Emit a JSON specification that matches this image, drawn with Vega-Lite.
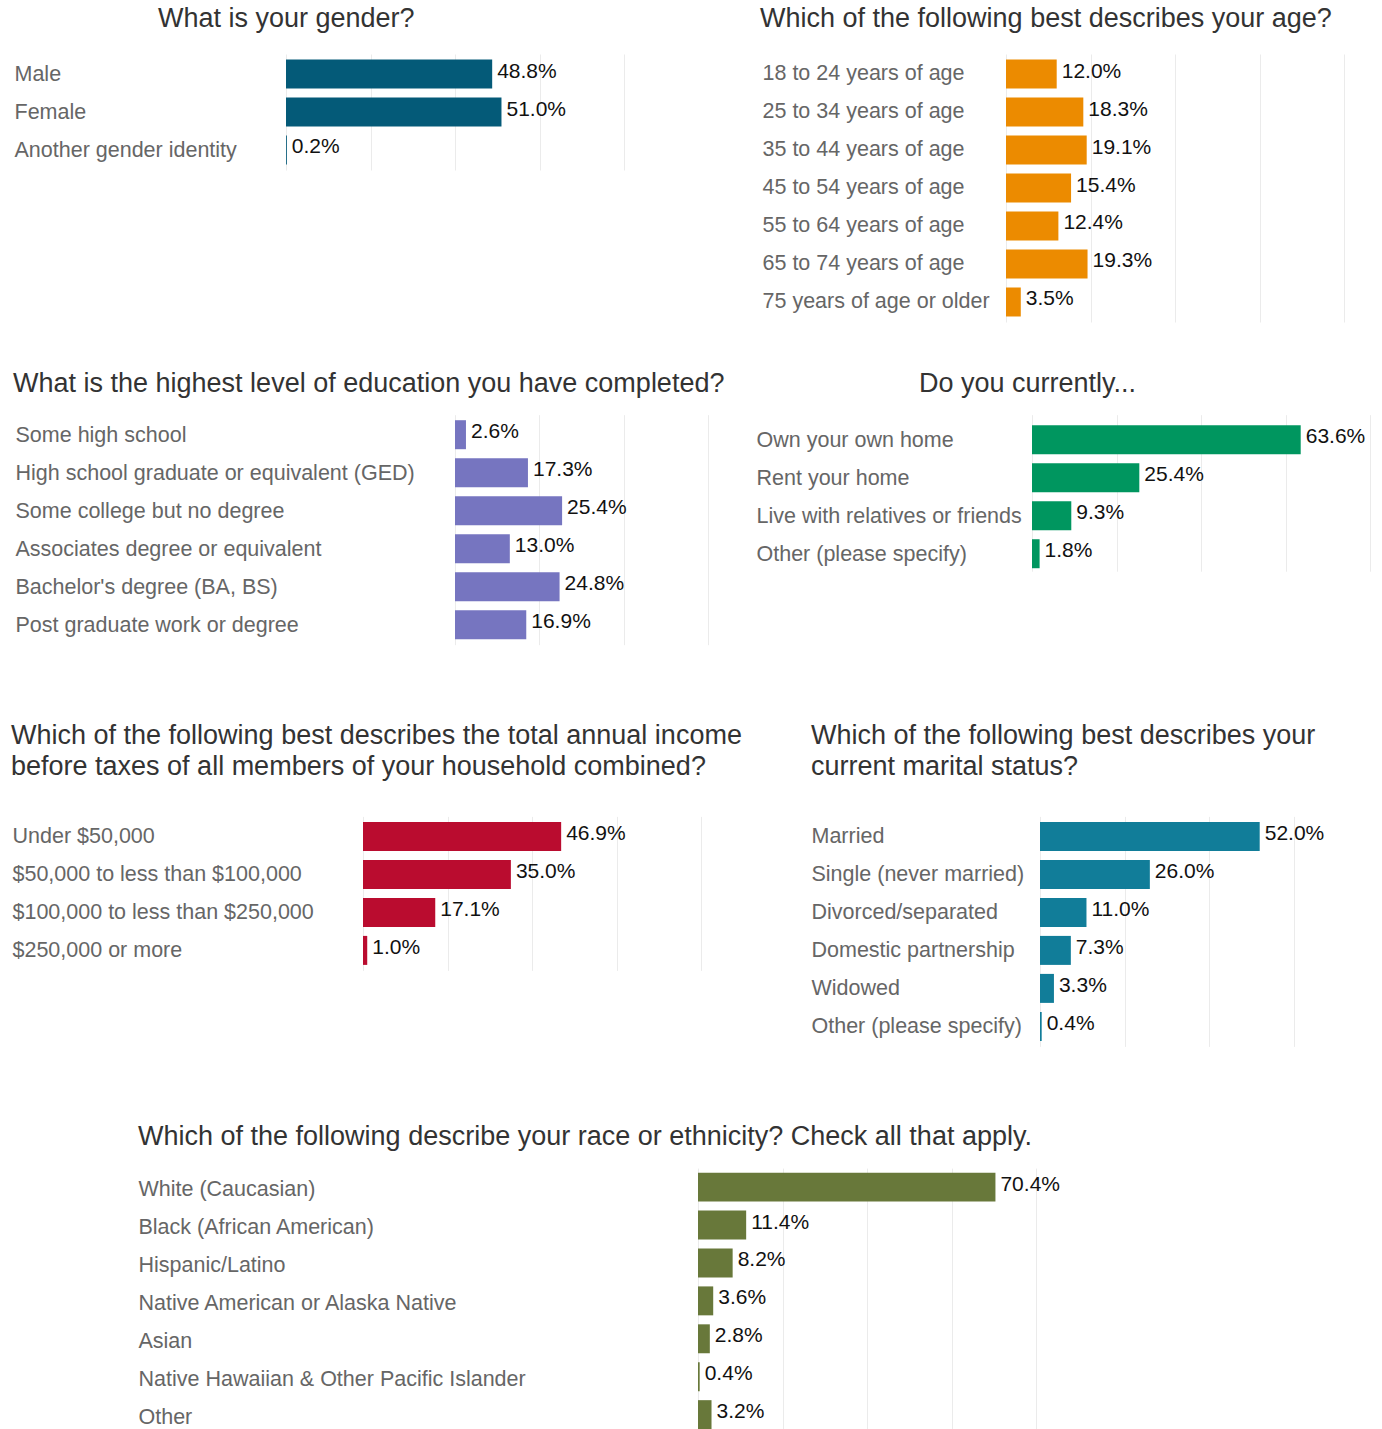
{
  "$schema": "https://vega.github.io/schema/vega-lite/v6.json",
  "background": "white",
  "autosize": {"type": "pad"},
  "padding": {"left": 0, "top": 5, "right": 0, "bottom": 0},
  "spacing": 46.7,
  "config": {
    "view": {"stroke": null},
    "font": "Liberation Sans",
    "title": {"font": "Liberation Sans", "fontSize": 27, "fontWeight": "normal", "color": "#333333", "anchor": "start", "frame": "group", "lineHeight": 31},
    "axisY": {"ticks": false, "domain": false, "grid": false, "labelAlign": "left", "labelBaseline": "middle", "labelColor": "#666666", "labelFontSize": 21.5, "labelLimit": 0, "labelFont": "Liberation Sans"},
    "axisX": {"labels": true, "labelOpacity": 0, "labelFontSize": 1, "labelPadding": 0, "ticks": false, "domain": false, "grid": true, "gridColor": "#ebebeb", "gridWidth": 1},
    "text": {"font": "Liberation Sans", "fontSize": 21, "color": "#111111", "align": "left", "baseline": "middle", "dx": 5, "dy": -2.5}
  },
  "datasets": {
    "gender": [
      {"category": "Male", "value": 48.8, "label": "48.8%"},
      {"category": "Female", "value": 51.0, "label": "51.0%"},
      {"category": "Another gender identity", "value": 0.2, "label": "0.2%"}
    ],
    "age": [
      {"category": "18 to 24 years of age", "value": 12.0, "label": "12.0%"},
      {"category": "25 to 34 years of age", "value": 18.3, "label": "18.3%"},
      {"category": "35 to 44 years of age", "value": 19.1, "label": "19.1%"},
      {"category": "45 to 54 years of age", "value": 15.4, "label": "15.4%"},
      {"category": "55 to 64 years of age", "value": 12.4, "label": "12.4%"},
      {"category": "65 to 74 years of age", "value": 19.3, "label": "19.3%"},
      {"category": "75 years of age or older", "value": 3.5, "label": "3.5%"}
    ],
    "edu": [
      {"category": "Some high school", "value": 2.6, "label": "2.6%"},
      {"category": "High school graduate or equivalent (GED)", "value": 17.3, "label": "17.3%"},
      {"category": "Some college but no degree", "value": 25.4, "label": "25.4%"},
      {"category": "Associates degree or equivalent", "value": 13.0, "label": "13.0%"},
      {"category": "Bachelor's degree (BA, BS)", "value": 24.8, "label": "24.8%"},
      {"category": "Post graduate work or degree", "value": 16.9, "label": "16.9%"}
    ],
    "home": [
      {"category": "Own your own home", "value": 63.6, "label": "63.6%"},
      {"category": "Rent your home", "value": 25.4, "label": "25.4%"},
      {"category": "Live with relatives or friends", "value": 9.3, "label": "9.3%"},
      {"category": "Other (please specify)", "value": 1.8, "label": "1.8%"}
    ],
    "income": [
      {"category": "Under $50,000", "value": 46.9, "label": "46.9%"},
      {"category": "$50,000 to less than $100,000", "value": 35.0, "label": "35.0%"},
      {"category": "$100,000 to less than $250,000", "value": 17.1, "label": "17.1%"},
      {"category": "$250,000 or more", "value": 1.0, "label": "1.0%"}
    ],
    "marital": [
      {"category": "Married", "value": 52.0, "label": "52.0%"},
      {"category": "Single (never married)", "value": 26.0, "label": "26.0%"},
      {"category": "Divorced/separated", "value": 11.0, "label": "11.0%"},
      {"category": "Domestic partnership", "value": 7.3, "label": "7.3%"},
      {"category": "Widowed", "value": 3.3, "label": "3.3%"},
      {"category": "Other (please specify)", "value": 0.4, "label": "0.4%"}
    ],
    "race": [
      {"category": "White (Caucasian)", "value": 70.4, "label": "70.4%"},
      {"category": "Black (African American)", "value": 11.4, "label": "11.4%"},
      {"category": "Hispanic/Latino", "value": 8.2, "label": "8.2%"},
      {"category": "Native American or Alaska Native", "value": 3.6, "label": "3.6%"},
      {"category": "Asian", "value": 2.8, "label": "2.8%"},
      {"category": "Native Hawaiian & Other Pacific Islander", "value": 0.4, "label": "0.4%"},
      {"category": "Other", "value": 3.2, "label": "3.2%"}
    ]
  },
  "vconcat": [
    {
      "hconcat": [
        {"width": 286, "height": 1, "data": {"values": []}, "mark": {"type": "point", "opacity": 0}},
        {
          "hconcat": [
            {
              "data": {"name": "gender"},
              "width": 338, "height": 116,
              "title": {"text": "What is your gender?", "dx": -128, "offset": 20.9},
              "encoding": {
                "y": {"field": "category", "type": "nominal", "sort": null, "title": null, "scale": {"paddingInner": 0.237, "paddingOuter": 0.145}, "axis": {"labelPadding": 272, "minExtent": 272, "maxExtent": 272, "labelOffset": 1}},
                "x": {"field": "value", "type": "quantitative", "title": null, "scale": {"domain": [0, 80], "nice": false}, "axis": {"values": [0, 20, 40, 60, 80], "minExtent": 0, "maxExtent": 0}}
              },
              "layer": [
                {"mark": {"type": "bar", "color": "#045a78"}},
                {"mark": {"type": "text"}, "encoding": {"text": {"field": "label"}}}
              ]
            },
            {
              "data": {"name": "age"},
              "width": 338, "height": 268,
              "title": {"text": "Which of the following best describes your age?", "dx": -246, "offset": 20.9},
              "encoding": {
                "y": {"field": "category", "type": "nominal", "sort": null, "title": null, "scale": {"paddingInner": 0.237, "paddingOuter": 0.145}, "axis": {"labelPadding": 244, "minExtent": 244, "maxExtent": 244}},
                "x": {"field": "value", "type": "quantitative", "title": null, "scale": {"domain": [0, 80], "nice": false}, "axis": {"values": [0, 20, 40, 60, 80], "minExtent": 0, "maxExtent": 0}}
              },
              "layer": [
                {"mark": {"type": "bar", "color": "#ec8b00"}},
                {"mark": {"type": "text"}, "encoding": {"text": {"field": "label"}}}
              ]
            }
          ],
          "spacing": 382,
          "bounds": "flush"
        }
      ],
      "spacing": 0,
      "bounds": "flush"
    },
    {
      "hconcat": [
        {"width": 455, "height": 1, "data": {"values": []}, "mark": {"type": "point", "opacity": 0}},
        {
          "hconcat": [
            {
              "data": {"name": "edu"},
              "width": 253, "height": 230,
              "title": {"text": "What is the highest level of education you have completed?", "dx": -442, "offset": 16.9},
              "encoding": {
                "y": {"field": "category", "type": "nominal", "sort": null, "title": null, "scale": {"paddingInner": 0.237, "paddingOuter": 0.145}, "axis": {"labelPadding": 440, "minExtent": 440, "maxExtent": 440, "labelOffset": 1}},
                "x": {"field": "value", "type": "quantitative", "title": null, "scale": {"domain": [0, 60], "nice": false}, "axis": {"values": [0, 20, 40, 60], "minExtent": 29.9, "maxExtent": 29.9}}
              },
              "layer": [
                {"mark": {"type": "bar", "color": "#7675c0"}},
                {"mark": {"type": "text"}, "encoding": {"text": {"field": "label"}}}
              ]
            },
            {
              "data": {"name": "home"},
              "width": 338, "height": 156.5,
              "title": {"text": "Do you currently...", "dx": -113, "offset": 16.9},
              "encoding": {
                "y": {"field": "category", "type": "nominal", "sort": null, "title": null, "scale": {"paddingInner": 0.237, "paddingOuter": 0.178, "align": 0.78}, "axis": {"labelPadding": 276, "minExtent": 276, "maxExtent": 276, "labelOffset": 1}},
                "x": {"field": "value", "type": "quantitative", "title": null, "scale": {"domain": [0, 80], "nice": false}, "axis": {"values": [0, 20, 40, 60, 80], "minExtent": 0, "maxExtent": 0}}
              },
              "layer": [
                {"mark": {"type": "bar", "color": "#00965f"}},
                {"mark": {"type": "text"}, "encoding": {"text": {"field": "label"}}}
              ]
            }
          ],
          "spacing": 324,
          "bounds": "flush"
        }
      ],
      "spacing": 0,
      "bounds": "flush"
    },
    {
      "hconcat": [
        {"width": 363, "height": 1, "data": {"values": []}, "mark": {"type": "point", "opacity": 0}},
        {
          "hconcat": [
            {
              "data": {"name": "income"},
              "width": 338, "height": 154,
              "title": {"text": ["Which of the following best describes the total annual income", "before taxes of all members of your household combined?"], "dx": -352, "offset": 35.9},
              "encoding": {
                "y": {"field": "category", "type": "nominal", "sort": null, "title": null, "scale": {"paddingInner": 0.237, "paddingOuter": 0.145}, "axis": {"labelPadding": 351, "minExtent": 351, "maxExtent": 351, "labelOffset": 1}},
                "x": {"field": "value", "type": "quantitative", "title": null, "scale": {"domain": [0, 80], "nice": false}, "axis": {"values": [0, 20, 40, 60, 80], "minExtent": 0, "maxExtent": 0}}
              },
              "layer": [
                {"mark": {"type": "bar", "color": "#ba0c2f"}},
                {"mark": {"type": "text"}, "encoding": {"text": {"field": "label"}}}
              ]
            },
            {
              "data": {"name": "marital"},
              "width": 338, "height": 230,
              "title": {"text": ["Which of the following best describes your", "current marital status?"], "dx": -229, "offset": 35.9},
              "encoding": {
                "y": {"field": "category", "type": "nominal", "sort": null, "title": null, "scale": {"paddingInner": 0.237, "paddingOuter": 0.145}, "axis": {"labelPadding": 229, "minExtent": 229, "maxExtent": 229, "labelOffset": 1}},
                "x": {"field": "value", "type": "quantitative", "title": null, "scale": {"domain": [0, 80], "nice": false}, "axis": {"values": [0, 20, 40, 60, 80], "minExtent": 29.9, "maxExtent": 29.9}}
              },
              "layer": [
                {"mark": {"type": "bar", "color": "#117d99"}},
                {"mark": {"type": "text"}, "encoding": {"text": {"field": "label"}}}
              ]
            }
          ],
          "spacing": 339,
          "bounds": "flush"
        }
      ],
      "spacing": 0,
      "bounds": "flush"
    },
    {
      "hconcat": [
        {"width": 698, "height": 1, "data": {"values": []}, "mark": {"type": "point", "opacity": 0}},
        {
          "data": {"name": "race"},
          "width": 338, "height": 261,
          "title": {"text": "Which of the following describe your race or ethnicity? Check all that apply.", "dx": -560, "offset": 16.9},
          "encoding": {
            "y": {"field": "category", "type": "nominal", "sort": null, "title": null, "scale": {"paddingInner": 0.237, "paddingOuter": 0.06, "align": 1}, "axis": {"labelPadding": 560, "minExtent": 560, "maxExtent": 560, "labelOffset": 3}},
            "x": {"field": "value", "type": "quantitative", "title": null, "scale": {"domain": [0, 80], "nice": false}, "axis": {"values": [0, 20, 40, 60, 80], "minExtent": 0, "maxExtent": 0}}
          },
          "layer": [
            {"mark": {"type": "bar", "color": "#68783a"}},
            {"mark": {"type": "text"}, "encoding": {"text": {"field": "label"}}}
          ]
        }
      ],
      "spacing": 0,
      "bounds": "flush"
    }
  ]
}
